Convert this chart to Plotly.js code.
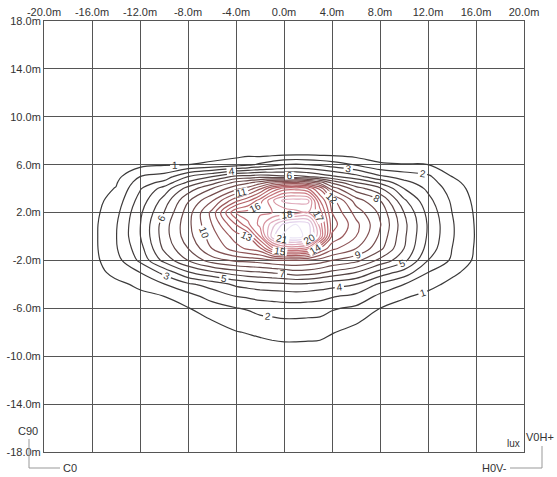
<!DOCTYPE html>
<html>
<head>
<meta charset="utf-8">
<script src="https://cdn.plot.ly/plotly-3.0.1.min.js"></script>
<style>html,body{margin:0;padding:0;background:#fff;}#chart{width:557px;height:477px;}</style>
</head>
<body>
<div id="chart"></div>
<script>
// Grid positions (metres)
const xs = [-18,-16,-14,-12,-10,-8,-6,-4,-3,-2,-1,0,1,2,3,4,6,8,10,12,14,16,18];
const ys = [-11,-9,-8,-7,-6,-5,-4,-3,-2,-1,0,1,2,3,4,4.5,5,6,7,8,10];
// Illuminance (lux), one list per x column (values along ys)
const luxByColumn = [
  [0.01,0.02,0.03,0.04,0.06,0.1,0.15,0.22,0.28,0.3,0.3,0.28,0.25,0.2,0.15,0.12,0.1,0.05,0.03,0.01,0],
  [0.02,0.05,0.08,0.12,0.2,0.3,0.45,0.55,0.7,0.7,0.7,0.7,0.65,0.6,0.55,0.5,0.42,0.25,0.1,0.02,0],
  [0.03,0.08,0.12,0.2,0.3,0.45,0.75,1.3,1.6,1.9,1.95,1.9,1.7,1.4,1.05,0.9,0.7,0.4,0.2,0.05,0],
  [0.05,0.1,0.2,0.3,0.5,0.75,1.2,2.0,3.2,3.6,3.95,3.95,3.8,3.4,2.9,2.5,2.0,0.7,0.3,0.05,0],
  [0.05,0.15,0.25,0.4,0.6,1.0,1.95,3.3,5.3,6.2,6.5,6.5,6.0,5.4,4.4,3.3,2.4,0.9,0.4,0.08,0],
  [0.1,0.25,0.4,0.6,0.95,1.6,2.8,4.9,7.0,8.0,8.6,8.7,8.5,7.9,6.4,5.2,4.0,1.0,0.5,0.1,0],
  [0.1,0.3,0.6,1.0,1.5,2.4,3.4,5.8,8.5,10.0,10.5,11.0,11.3,9.9,8.0,6.6,5.0,1.2,0.5,0.1,0],
  [0.2,0.6,0.95,1.4,1.95,3.0,4.2,6.5,9.2,11.6,12.5,14.0,16.0,12.7,9.7,8.3,6.3,1.5,0.6,0.1,0],
  [0.25,0.7,1.05,1.5,2.1,3.15,4.4,6.8,9.3,12.2,13.0,15.8,16.5,13.8,10.4,8.8,6.4,1.8,0.65,0.1,0],
  [0.25,0.8,1.15,1.7,2.4,3.3,4.6,6.9,9.5,12.8,16.0,17.3,16.9,15.5,11.8,9.5,6.6,2.2,0.4,0.1,0],
  [0.25,0.85,1.3,1.8,2.5,3.35,4.7,7.1,9.8,15.5,20.5,19.5,17.0,17.8,14.0,10.5,6.4,2.6,0.45,0.1,0],
  [0.25,0.9,1.4,1.9,2.6,3.4,4.8,7.3,10.0,17.0,22.3,21.3,17.2,19.3,15.5,11.0,6.2,3.0,0.5,0.1,0],
  [0.25,0.9,1.4,1.9,2.6,3.45,4.9,7.6,10.0,17.2,22.6,22.0,17.6,19.5,15.6,11.2,6.3,3.1,0.55,0.1,0],
  [0.25,0.88,1.35,1.85,2.55,3.4,4.8,7.5,9.8,16.5,21.5,21.5,18.0,19.3,15.0,10.5,6.0,3.0,0.55,0.1,0],
  [0.25,0.85,1.3,1.8,2.5,3.3,4.6,7.2,9.5,13.0,18.0,17.5,16.5,15.0,12.8,9.5,5.6,2.8,0.5,0.1,0],
  [0.2,0.7,1.05,1.6,2.1,3.1,4.4,6.7,9.0,11.3,12.8,13.5,13.0,12.4,9.6,7.8,5.2,2.5,0.5,0.1,0],
  [0.15,0.45,0.7,1.15,1.8,2.7,4.0,6.0,8.3,10.0,11.0,11.3,10.6,9.5,7.5,6.0,4.4,1.9,0.4,0.1,0],
  [0.1,0.25,0.4,0.6,1.0,1.75,2.8,4.6,6.7,8.3,8.8,9.1,8.8,8.0,6.2,4.8,3.2,1.15,0.35,0.05,0],
  [0.05,0.15,0.25,0.4,0.65,1.1,2.0,3.6,5.3,6.0,6.2,6.3,6.0,5.2,4.0,3.3,2.6,1.05,0.3,0.05,0],
  [0.05,0.1,0.2,0.3,0.45,0.75,1.3,2.0,3.0,3.6,3.85,3.9,3.7,3.3,2.8,2.5,2.2,1.0,0.3,0.05,0],
  [0.03,0.08,0.12,0.2,0.3,0.45,0.75,1.2,1.85,2.0,2.1,2.1,2.0,1.85,1.55,1.3,1.0,0.55,0.15,0.02,0],
  [0.02,0.04,0.06,0.1,0.15,0.25,0.4,0.6,0.8,0.88,0.92,0.9,0.85,0.75,0.6,0.5,0.4,0.2,0.1,0.02,0],
  [0.01,0.02,0.03,0.04,0.06,0.1,0.15,0.22,0.3,0.33,0.35,0.35,0.3,0.28,0.22,0.2,0.15,0.08,0.04,0.01,0]
];
// Axis tick values
const xTicks = [-20,-16,-12,-8,-4,0,4,8,12,16,20];
const yTicks = [18,14,10,6,2,-2,-6,-10,-14,-18];
const xTickText = xTicks.map(v => v.toFixed(1) + 'm');
const yTickText = yTicks.map(v => v.toFixed(1) + 'm');

const FONT = 'Liberation Sans, Arial, sans-serif';

const trace = {
  type: 'contour',
  x: xs, y: ys, z: luxByColumn, transpose: true,
  zauto: false, zmin: 1, zmax: 22,
  contours: {start: 1, end: 22, size: 1, coloring: 'lines', showlabels: true,
    labelfont: {family: FONT, size: 10, color: '#333'}},
  colorscale: [[0,'#3a3a3a'],[0.2,'#4a4040'],[0.4,'#7a5050'],[0.6,'#b05e62'],
               [0.75,'#cc7880'],[0.85,'#e0a8b8'],[0.95,'#e2d0ea'],[1,'#ece6f6']],
  line: {width: 1.2, smoothing: 1.1},
  showscale: false,
  hoverinfo: 'skip'
};

const px = v => (v - 44) / 480;
const py = v => (452 - v) / 431;
const gray = {color: '#999', width: 1};

const layout = {
  width: 557, height: 477,
  margin: {l: 44, r: 33, t: 21, b: 25, pad: 0},
  paper_bgcolor: '#fff', plot_bgcolor: '#fff',
  showlegend: false,
  font: {family: FONT, size: 11, color: '#333'},
  xaxis: {range: [-20, 20], side: 'top', tickvals: xTicks, ticktext: xTickText,
    showgrid: true, gridcolor: '#555', gridwidth: 1, zeroline: false,
    showline: true, linecolor: '#555', linewidth: 1, mirror: true, ticks: '',
    tickfont: {family: FONT, size: 11, color: '#333'}, fixedrange: true},
  yaxis: {range: [-18, 18], tickvals: yTicks, ticktext: yTickText,
    showgrid: true, gridcolor: '#555', gridwidth: 1, zeroline: false,
    showline: true, linecolor: '#555', linewidth: 1, mirror: true, ticks: '',
    ticklabelstandoff: 0,
    tickfont: {family: FONT, size: 11, color: '#333'}, fixedrange: true},
  shapes: [
    {type: 'line', xref: 'paper', yref: 'paper', x0: px(29), x1: px(29), y0: py(439), y1: py(468), line: gray},
    {type: 'line', xref: 'paper', yref: 'paper', x0: px(29), x1: px(60), y0: py(468), y1: py(468), line: gray},
    {type: 'line', xref: 'paper', yref: 'paper', x0: px(542), x1: px(542), y0: py(446), y1: py(468), line: gray},
    {type: 'line', xref: 'paper', yref: 'paper', x0: px(510), x1: px(542), y0: py(468), y1: py(468), line: gray}
  ],
  annotations: [
    {text: 'C90', xref: 'paper', yref: 'paper', x: px(28), y: py(431), showarrow: false, xanchor: 'center', yanchor: 'middle', font: {family: FONT, size: 11, color: '#333'}},
    {text: 'C0', xref: 'paper', yref: 'paper', x: px(61), y: py(468), showarrow: false, xanchor: 'left', yanchor: 'middle', font: {family: FONT, size: 11, color: '#333'}},
    {text: 'V0H+', xref: 'paper', yref: 'paper', x: px(540), y: py(437), showarrow: false, xanchor: 'center', yanchor: 'middle', font: {family: FONT, size: 11, color: '#333'}},
    {text: 'H0V-', xref: 'paper', yref: 'paper', x: px(509), y: py(468), showarrow: false, xanchor: 'right', yanchor: 'middle', font: {family: FONT, size: 11, color: '#333'}},
    {text: 'lux', xref: 'paper', yref: 'paper', x: px(522), y: py(451), showarrow: false, xanchor: 'right', yanchor: 'bottom', font: {family: FONT, size: 10, color: '#333'}}
  ]
};

Plotly.newPlot('chart', [trace], layout, {displayModeBar: false, staticPlot: true});
</script>
</body>
</html>
